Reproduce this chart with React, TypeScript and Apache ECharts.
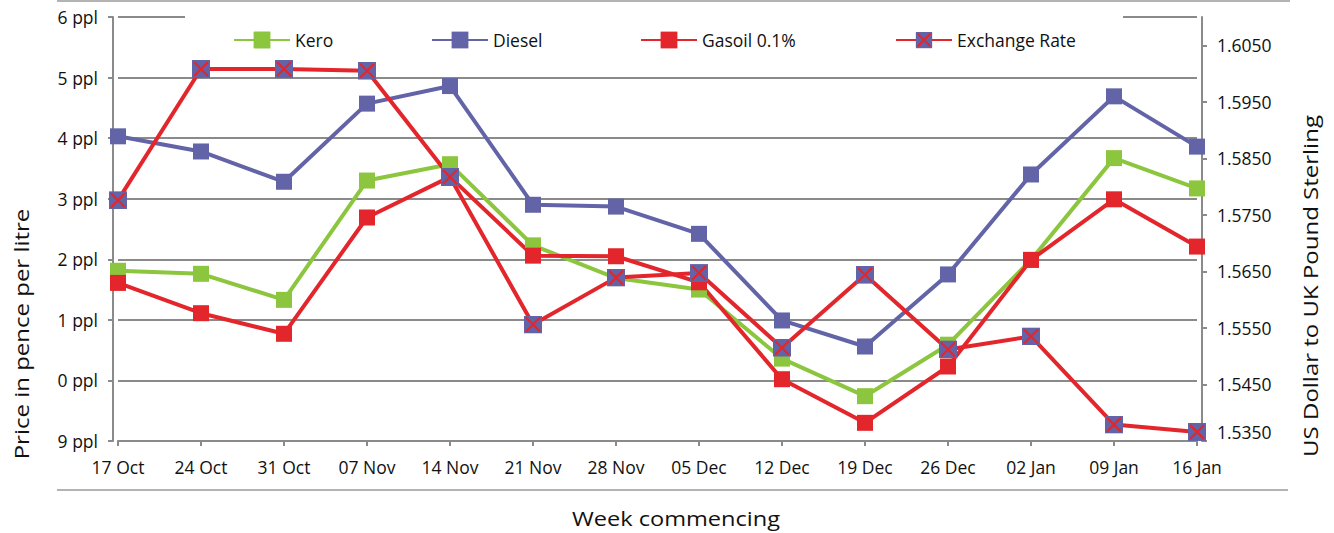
import React, { useEffect, useRef } from 'react';
import * as echarts from 'echarts';

const categories = ['17 Oct', '24 Oct', '31 Oct', '07 Nov', '14 Nov', '21 Nov', '28 Nov', '05 Dec', '12 Dec', '19 Dec', '26 Dec', '02 Jan', '09 Jan', '16 Jan'];
const kero = [51.81, 51.76, 51.33, 53.30, 53.57, 52.23, 51.69, 51.50, 50.36, 49.74, 50.59, 51.99, 53.67, 53.17];
const diesel = [54.03, 53.78, 53.28, 54.57, 54.86, 52.90, 52.87, 52.42, 50.99, 50.56, 51.75, 53.40, 54.69, 53.86];
const gasoil = [51.61, 51.11, 50.77, 52.69, 53.36, 52.06, 52.05, 51.62, 50.02, 49.30, 50.23, 51.99, 52.99, 52.21];
const exchangeRate = [1.5776, 1.6008, 1.6008, 1.6005, 1.5817, 1.5556, 1.5639, 1.5647, 1.5515, 1.5644, 1.5512, 1.5535, 1.5379, 1.5366];

const priceMin = 49;
const priceMax = 56;
const priceTickLabels = ['9 ppl', '0 ppl', '1 ppl', '2 ppl', '3 ppl', '4 ppl', '5 ppl', '6 ppl'];
const rateMin = 1.535;
const rateMax = 1.61;
const rateTicks = [1.535, 1.545, 1.555, 1.565, 1.575, 1.585, 1.595, 1.605];
const seriesNames = ['Kero', 'Diesel', 'Gasoil 0.1%', 'Exchange Rate'];
const legendLefts = [233, 431, 640, 895];

const FONT = '"Open Sans", "Noto Sans", sans-serif';
const TEXT = '#111111';
const GREEN = '#8CC63E';
const BLUE = '#6264A7';
const RED = '#E3262B';
const AXIS = '#8a8a8a';
const LABEL_SIZE = 17.5;

const xSvg =
  "<svg xmlns='http://www.w3.org/2000/svg' width='18' height='18' viewBox='0 0 18 18'>" +
  "<rect x='0' y='0' width='18' height='18' fill='" + BLUE + "'/>" +
  "<path d='M2 2 L16 16 M16 2 L2 16' stroke='" + RED + "' stroke-width='2.2' fill='none'/></svg>";
const X_SYMBOL = 'image://data:image/svg+xml;charset=utf-8,' + encodeURIComponent(xSvg);

export default function App() {
  const ref = useRef<HTMLDivElement>(null);
  useEffect(() => {
    if (!ref.current) return;
    const chart = echarts.init(ref.current, undefined, { renderer: 'svg' });
    const lineSeries = (name: string, data: number[], color: string, yAxisIndex: number, symbol: string, symbolSize: number) => ({
      name,
      type: 'line',
      data,
      yAxisIndex,
      symbol,
      symbolSize,
      showAllSymbol: true,
      lineStyle: { width: 4, color },
      itemStyle: { color },
      emphasis: { disabled: true },
      z: 2,
    });
    chart.setOption({
      animation: false,
      backgroundColor: '#ffffff',
      grid: { left: 118, right: 137, top: 17, bottom: 92, containLabel: false },
      legend: seriesNames.map((n, i) => ({
        data: [n],
        left: legendLefts[i],
        top: 31,
        padding: 0,
        itemWidth: 56,
        itemHeight: 21,
        itemGap: 0,
        selectedMode: false,
        textStyle: { fontSize: LABEL_SIZE, fontFamily: FONT, color: TEXT },
      })),
      xAxis: {
        type: 'category',
        data: categories,
        boundaryGap: false,
        axisLine: { show: true, lineStyle: { color: AXIS, width: 2 } },
        axisTick: { show: true, length: 5, lineStyle: { color: AXIS, width: 2 } },
        axisLabel: { interval: 0, fontSize: LABEL_SIZE, fontFamily: FONT, color: TEXT, margin: 17 },
        splitLine: { show: false },
      },
      yAxis: [
        {
          type: 'value',
          position: 'left',
          min: priceMin,
          max: priceMax,
          interval: 1,
          offset: 5,
          axisLine: { show: true, lineStyle: { color: AXIS, width: 2 } },
          axisTick: { show: true, length: 5, lineStyle: { color: AXIS, width: 2 } },
          axisLabel: {
            fontSize: LABEL_SIZE,
            fontFamily: FONT,
            color: TEXT,
            margin: 15,
            formatter: (v: number) => priceTickLabels[Math.round(v - priceMin)] ?? '',
          },
          splitLine: { show: true, lineStyle: { color: AXIS, width: 2 } },
        },
        {
          type: 'value',
          position: 'right',
          min: rateMin,
          max: rateMax,
          offset: 5,
          axisLine: { show: true, lineStyle: { color: AXIS, width: 2 } },
          axisTick: { show: true, length: 5, customValues: rateTicks, lineStyle: { color: AXIS, width: 2 } },
          axisLabel: {
            customValues: rateTicks,
            fontSize: LABEL_SIZE,
            fontFamily: FONT,
            color: TEXT,
            margin: 15,
            formatter: (v: number) =>
              Math.abs(v - rateMin) < 1e-9 ? '{low|' + v.toFixed(4) + '}' : v.toFixed(4),
            rich: {
              low: { fontSize: LABEL_SIZE, fontFamily: FONT, color: TEXT, padding: [0, 0, 18, 0] },
            },
          },
          splitLine: { show: false },
        },
      ],
      series: [
        lineSeries(seriesNames[0], kero, GREEN, 0, 'rect', 16),
        lineSeries(seriesNames[1], diesel, BLUE, 0, 'rect', 16),
        lineSeries(seriesNames[2], gasoil, RED, 0, 'rect', 16),
        lineSeries(seriesNames[3], exchangeRate, RED, 1, X_SYMBOL, 18),
      ],
      graphic: [
        { type: 'line', shape: { x1: 57, y1: 1, x2: 1290, y2: 1 }, style: { stroke: '#9a9a9a', lineWidth: 1.5 } },
        { type: 'line', shape: { x1: 57, y1: 490, x2: 1288, y2: 490 }, style: { stroke: '#9a9a9a', lineWidth: 1.5 } },
        { type: 'rect', z: 1, shape: { x: 185, y: 8, width: 938, height: 18 }, style: { fill: '#ffffff' } },
        {
          type: 'text', x: 21, y: 334, rotation: Math.PI / 2, scaleX: 1.2,
          style: { text: 'Price in pence per litre', fontSize: 20, fontFamily: FONT, fill: TEXT, align: 'center', verticalAlign: 'middle' },
        },
        {
          type: 'text', x: 1310, y: 286, rotation: Math.PI / 2, scaleX: 1.2,
          style: { text: 'US Dollar to UK Pound Sterling', fontSize: 20, fontFamily: FONT, fill: TEXT, align: 'center', verticalAlign: 'middle' },
        },
        {
          type: 'text', x: 676, y: 518, scaleX: 1.18,
          style: { text: 'Week commencing', fontSize: 20, fontFamily: FONT, fill: TEXT, align: 'center', verticalAlign: 'middle' },
        },
      ],
    });
    return () => chart.dispose();
  }, []);
  return (
    <div
      ref={ref}
      style={{ position: 'fixed', left: 0, top: 0, width: 1334, height: 533, background: '#fff' }}
    />
  );
}
